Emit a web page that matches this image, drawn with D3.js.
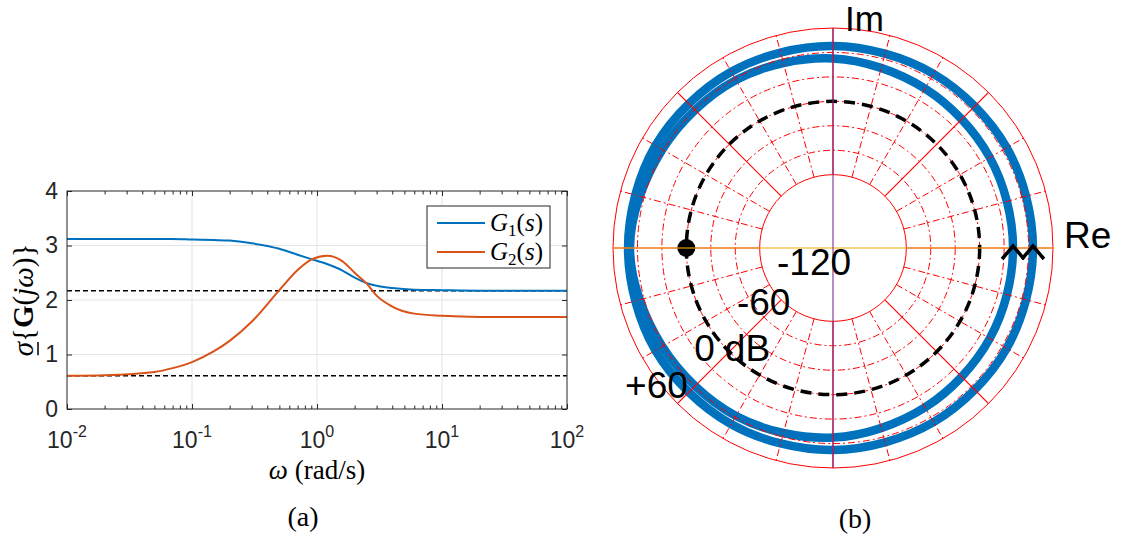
<!DOCTYPE html>
<html>
<head>
<meta charset="utf-8">
<script src="https://cdn.jsdelivr.net/npm/d3@7"></script>
<style>
  body { margin: 0; background: #fff; }
  svg { display: block; }
</style>
</head>
<body>
<svg id="fig" width="1122" height="539"></svg>
<script>
// (a) lower singular value of G(jw) against frequency
const omega   = [0.01, 0.02, 0.05, 0.07, 0.1, 0.15, 0.2, 0.3, 0.5, 0.7, 0.9, 1.2, 1.6, 2, 2.5, 3, 4, 6, 10, 20, 50, 100];
const sigmaG1 = [3.12, 3.12, 3.12, 3.12, 3.11, 3.10, 3.09, 3.04, 2.94, 2.83, 2.75, 2.66, 2.54, 2.41, 2.31, 2.26, 2.22, 2.19, 2.18, 2.17, 2.17, 2.17];
const sigmaG2 = [0.61, 0.62, 0.68, 0.75, 0.86, 1.06, 1.25, 1.60, 2.18, 2.55, 2.74, 2.81, 2.71, 2.50, 2.30, 2.08, 1.88, 1.75, 1.71, 1.69, 1.69, 1.69];
const refLevels = [2.17, 0.61];
const xTickExp = [-2, -1, 0, 1, 2];
const yTicks = [0, 1, 2, 3, 4];
const legendSub = ['1', '2'];

// (b) log-magnitude polar plot
const ringDb = [-60, -40, -20, 0, 20, 40, 60];
const ringLabelDb = [-120, -60, 0, 60];
const ringLabelText = ['-120', '-60', '0', '+60'];
const locusPhase   = [0, 30, 60, 90, 120, 150, 180, 210, 240, 270, 300, 330];
const locusOuterDb = [43.6, 44.1, 44.5, 45.3, 46.5, 47.7, 47.7, 47.7, 46.5, 45.3, 44.5, 44.1];
const locusInnerDb = [27.3, 28.1, 30.6, 35.1, 38.7, 41.2, 46.1, 41.2, 38.7, 35.1, 30.6, 28.1];
const criticalDb = 0, criticalPhase = 180;

(function () {
  'use strict';

  const svg = d3.select('#fig');
  const serif = '"Liberation Serif", "DejaVu Serif", serif';
  const sans = '"Liberation Sans", Arial, Helvetica, sans-serif';
  const axisCol = '#262626';
  const blue = '#0072BD', orange = '#D95319';

  // ---------- left panel ----------
  const L = { x0: 67, x1: 567, y0: 191, y1: 409 };
  const x = d3.scaleLog().domain([1e-2, 1e2]).range([L.x0, L.x1]);
  const y = d3.scaleLinear().domain([0, 4]).range([L.y1, L.y0]);
  const majors = xTickExp.map(e => Math.pow(10, e));
  const minors = [];
  xTickExp.slice(0, -1).forEach(e => {
    for (let k = 2; k <= 9; k++) minors.push(k * Math.pow(10, e));
  });

  const a = svg.append('g');

  // grid
  a.append('g').selectAll('line').data(majors.slice(1, -1)).join('line')
    .attr('x1', d => x(d)).attr('x2', d => x(d))
    .attr('y1', L.y0).attr('y2', L.y1)
    .attr('stroke', '#e3e3e3').attr('stroke-width', 1);
  a.append('g').selectAll('line').data(yTicks.slice(1, -1)).join('line')
    .attr('x1', L.x0).attr('x2', L.x1)
    .attr('y1', d => y(d)).attr('y2', d => y(d))
    .attr('stroke', '#e3e3e3').attr('stroke-width', 1);

  // reference levels
  a.append('g').selectAll('line').data(refLevels).join('line')
    .attr('x1', L.x0).attr('x2', L.x1)
    .attr('y1', d => y(d)).attr('y2', d => y(d))
    .attr('stroke', '#000').attr('stroke-width', 1.3)
    .attr('stroke-dasharray', '5,3');

  // curves
  const line = d3.line().x((d, i) => x(omega[i])).y(d => y(d)).curve(d3.curveMonotoneX);
  a.append('path').attr('d', line(sigmaG1))
    .attr('fill', 'none').attr('stroke', blue).attr('stroke-width', 2);
  a.append('path').attr('d', line(sigmaG2))
    .attr('fill', 'none').attr('stroke', orange).attr('stroke-width', 2);

  // axes (ticks point inward)
  const styleAxis = g => {
    g.select('.domain').remove();
    g.selectAll('line').attr('stroke', axisCol);
  };
  a.append('g').attr('transform', `translate(0,${L.y1})`)
    .call(d3.axisBottom(x).tickValues(majors).tickSize(-5).tickFormat('')).call(styleAxis);
  a.append('g').attr('transform', `translate(0,${L.y1})`)
    .call(d3.axisBottom(x).tickValues(minors).tickSize(-3.5).tickFormat('')).call(styleAxis);
  a.append('g').attr('transform', `translate(0,${L.y0})`)
    .call(d3.axisTop(x).tickValues(majors).tickSize(-5).tickFormat('')).call(styleAxis);
  a.append('g').attr('transform', `translate(0,${L.y0})`)
    .call(d3.axisTop(x).tickValues(minors).tickSize(-3.5).tickFormat('')).call(styleAxis);
  a.append('g').attr('transform', `translate(${L.x1},0)`)
    .call(d3.axisRight(y).tickValues(yTicks).tickSize(-5).tickFormat('')).call(styleAxis);
  const yAx = a.append('g').attr('transform', `translate(${L.x0},0)`)
    .call(d3.axisLeft(y).tickValues(yTicks).tickSize(-5).tickPadding(9).tickFormat(d3.format('d')))
    .call(styleAxis);
  yAx.selectAll('text').attr('font-family', sans).attr('font-size', 23).attr('fill', axisCol);

  a.append('rect').attr('x', L.x0).attr('y', L.y0)
    .attr('width', L.x1 - L.x0).attr('height', L.y1 - L.y0)
    .attr('fill', 'none').attr('stroke', axisCol).attr('stroke-width', 1);

  // x tick labels 10^n
  const xt = a.append('g').selectAll('text').data(xTickExp).join('text')
    .attr('x', d => x(Math.pow(10, d))).attr('y', L.y1 + 39)
    .attr('text-anchor', 'middle').attr('font-family', sans).attr('font-size', 23)
    .attr('fill', axisCol);
  xt.append('tspan').text('10');
  xt.append('tspan').attr('dy', -11).attr('font-size', 16).text(d => String(d));

  // x label
  const xl = a.append('text').attr('x', (L.x0 + L.x1) / 2).attr('y', L.y1 + 70)
    .attr('text-anchor', 'middle').attr('font-family', serif).attr('font-size', 27);
  xl.append('tspan').attr('font-style', 'italic').text('ω');
  xl.append('tspan').text(' (rad/s)');

  // y label (rotated), underlined sigma
  const yg = a.append('g').attr('transform', `translate(33,${(L.y0 + L.y1) / 2}) rotate(-90)`);
  const yl = yg.append('text').attr('font-family', serif).attr('font-size', 29);
  yl.append('tspan').attr('font-style', 'italic').text('σ');
  yl.append('tspan').text('{');
  yl.append('tspan').attr('font-weight', 'bold').text('G');
  yl.append('tspan').text('(');
  yl.append('tspan').attr('font-style', 'italic').text('jω');
  yl.append('tspan').text(')}');
  const ylLen = yl.node().getComputedTextLength();
  yl.attr('x', -ylLen / 2);
  const sigW = yl.node().getSubStringLength(0, 1);
  yg.append('line').attr('x1', -ylLen / 2 + 1).attr('x2', -ylLen / 2 + sigW)
    .attr('y1', 5).attr('y2', 5).attr('stroke', '#000').attr('stroke-width', 1.5);

  // legend
  const lg = { x: L.x1 - 140, y: L.y0 + 15, w: 123, h: 62 };
  a.append('rect').attr('x', lg.x).attr('y', lg.y).attr('width', lg.w).attr('height', lg.h)
    .attr('fill', '#fff').attr('stroke', axisCol).attr('stroke-width', 1);
  [blue, orange].forEach((c, i) => {
    const yy = lg.y + 17 + i * 29;
    a.append('line').attr('x1', lg.x + 10).attr('x2', lg.x + 58)
      .attr('y1', yy).attr('y2', yy).attr('stroke', c).attr('stroke-width', 2);
    const t = a.append('text').attr('x', lg.x + 63).attr('y', yy + 8)
      .attr('font-family', serif).attr('font-size', 25);
    t.append('tspan').attr('font-style', 'italic').text('G');
    t.append('tspan').attr('font-size', 17).attr('dy', 5).text(legendSub[i]);
    t.append('tspan').attr('dy', -5).text('(');
    t.append('tspan').attr('font-style', 'italic').text('s');
    t.append('tspan').text(')');
  });

  a.append('text').attr('x', 303).attr('y', 526).attr('text-anchor', 'middle')
    .attr('font-family', serif).attr('font-size', 28).text('(a)');

  // ---------- right panel ----------
  const cx = 833, cy = 248, R = 220;
  const rScale = d3.scaleLinear().domain([-120, 60]).range([0, R]);
  const rad = deg => deg * Math.PI / 180;
  const px = (db, deg) => cx + rScale(db) * Math.cos(rad(deg));
  const py = (db, deg) => cy - rScale(db) * Math.sin(rad(deg));
  const b = svg.append('g');
  const rMin = ringDb[0], rMax = ringDb[ringDb.length - 1];

  // loci
  const locus = d3.line().curve(d3.curveCardinalClosed);
  [locusOuterDb, locusInnerDb].forEach(arr => {
    b.append('path')
      .attr('d', locus(arr.map((db, i) => [px(db, locusPhase[i]), py(db, locusPhase[i])])))
      .attr('fill', 'none').attr('stroke', blue).attr('stroke-width', 8.5);
  });

  // grid
  const gridRed = 'rgb(255,0,0)';
  const dashDot = '7,3,2,3';
  b.append('g').selectAll('circle').data(ringDb).join('circle')
    .attr('cx', cx).attr('cy', cy).attr('r', d => rScale(d))
    .attr('fill', 'none').attr('stroke', gridRed).attr('stroke-width', 1)
    .attr('stroke-dasharray', d => (d === rMin || d === rMax) ? 'none' : dashDot);
  const spokes = d3.range(0, 360, 15);
  b.append('g').selectAll('line').data(spokes.filter(d => d % 45 !== 0)).join('line')
    .attr('x1', d => px(rMin, d)).attr('y1', d => py(rMin, d))
    .attr('x2', d => px(rMax, d)).attr('y2', d => py(rMax, d))
    .attr('stroke', gridRed).attr('stroke-width', 1)
    .attr('stroke-dasharray', dashDot);
  b.append('g').selectAll('line').data(spokes.filter(d => d % 45 === 0)).join('line')
    .attr('x1', d => px(rMin, d)).attr('y1', d => py(rMin, d))
    .attr('x2', d => px(rMax, d)).attr('y2', d => py(rMax, d))
    .attr('stroke', gridRed).attr('stroke-width', 1.2);

  // unit circle
  b.append('circle').attr('cx', cx).attr('cy', cy).attr('r', rScale(criticalDb))
    .attr('fill', 'none').attr('stroke', '#000').attr('stroke-width', 3.5)
    .attr('stroke-dasharray', '11,7');
  b.append('circle').attr('cx', px(criticalDb, criticalPhase)).attr('cy', py(criticalDb, criticalPhase))
    .attr('r', 9).attr('fill', '#000');

  // real / imaginary axes
  b.append('line').attr('x1', px(rMax, 180)).attr('x2', px(rMax, 0))
    .attr('y1', cy).attr('y2', cy)
    .attr('stroke', '#EDB120').attr('stroke-opacity', 0.55).attr('stroke-width', 2.2);
  b.append('line').attr('x1', cx).attr('x2', cx)
    .attr('y1', py(rMax, 90)).attr('y2', py(rMax, 270))
    .attr('stroke', '#7E2F8E').attr('stroke-opacity', 0.55).attr('stroke-width', 2);

  // direction chevrons where loci cross the positive real axis
  [locusInnerDb, locusOuterDb].forEach(arr => {
    const ax = px(arr[0], 0), ay = cy - 2;
    b.append('path')
      .attr('d', `M${ax - 11},${ay + 13}L${ax},${ay}L${ax + 11},${ay + 13}`)
      .attr('fill', 'none').attr('stroke', '#000').attr('stroke-width', 3.5);
  });

  // ring labels along a ray in the third quadrant
  const labelR = d3.scaleLinear().domain(ringLabelDb).range([24, 88, 163, 224]);
  const labAng = rad(218);
  ringLabelDb.forEach((db, i) => {
    const lx = cx + labelR(db) * Math.cos(labAng);
    const ly = cy - labelR(db) * Math.sin(labAng);
    const t = b.append('text').attr('x', lx).attr('y', ly)
      .attr('text-anchor', 'middle').attr('dominant-baseline', 'central')
      .attr('font-family', sans).attr('font-size', 37).text(ringLabelText[i]);
    if (db === 0) {
      const w = t.node().getComputedTextLength();
      b.append('text').attr('x', lx + w / 2 + 10).attr('y', ly)
        .attr('dominant-baseline', 'central')
        .attr('font-family', sans).attr('font-size', 37).text('dB');
    }
  });

  b.append('text').attr('x', cx + 12).attr('y', py(rMax, 90) + 3)
    .attr('font-family', sans).attr('font-size', 35).text('Im');
  b.append('text').attr('x', px(rMax, 0) + 11).attr('y', cy)
    .attr('font-family', sans).attr('font-size', 37).text('Re');

  b.append('text').attr('x', 855).attr('y', 528).attr('text-anchor', 'middle')
    .attr('font-family', serif).attr('font-size', 28).text('(b)');
})();
</script>
</body>
</html>
